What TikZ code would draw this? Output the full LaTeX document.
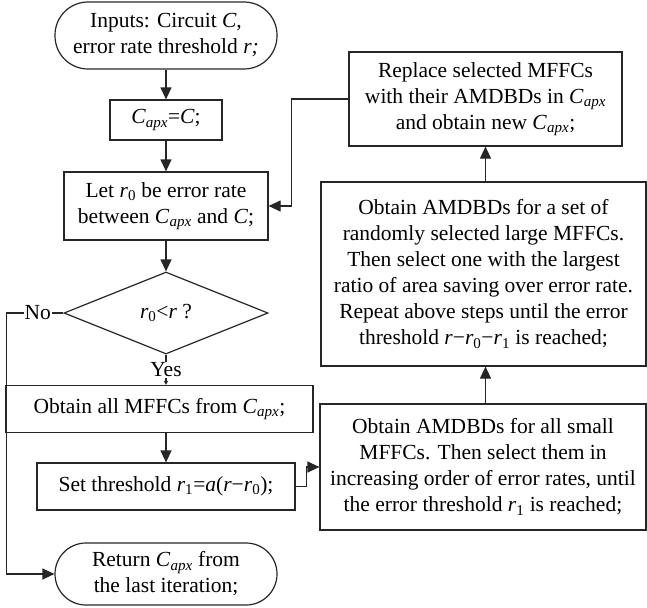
\documentclass[tikz,border=0pt]{standalone}
\usepackage{fontspec}
\setmainfont{Liberation Serif}
\usetikzlibrary{arrows.meta,shapes.geometric}

\newcommand\Capx{\textit{C}\textsubscript{\textit{apx}}}
\newcommand\rsub[1]{\textit{r}\textsubscript{#1}}

\tikzset{
  base/.style={draw=black!85, line width=1.2pt, align=center, inner sep=0pt,
    font=\fontsize{21.5}{26}\selectfont},
  procbox/.style={base, rectangle},
  termbox/.style={base, rectangle},
  decbox/.style={base, diamond},
  flow/.style={draw=black!85, line width=1.2pt, -{Triangle[length=12pt,width=11pt]}},
  plain/.style={draw=black!85, line width=1.2pt},
  lbl/.style={fill=white, inner sep=1pt, font=\fontsize{21.5}{26}\selectfont}
}

\begin{document}
\begin{tikzpicture}[x=1pt,y=-1pt]
\useasboundingbox (0,0) rectangle (647,607);

% left column
\node[termbox, rounded corners=33pt, minimum width=222pt, minimum height=67pt] (start) at (166,35.5)
  {Inputs: Circuit \textit{C},\\error rate threshold \textit{r;}};
\node[procbox, minimum width=112pt, minimum height=40pt] (capx) at (166,120)
  {\Capx=\textit{C};};
\node[procbox, minimum width=204pt, minimum height=68pt] (let) at (166,206)
  {Let \rsub{0} be error rate\\between \Capx{} and \textit{C};};
\node[decbox, minimum width=204pt, minimum height=82pt] (dec) at (166,313)
  {\rsub{0}<\textit{r} ?};
\node[procbox, minimum width=307pt, minimum height=47pt] (obt) at (159.5,409)
  {Obtain all MFFCs from \Capx;};
\node[procbox, minimum width=258pt, minimum height=47pt] (set) at (166,486.5)
  {Set threshold \rsub{1}=\textit{a}(\textit{r}−\rsub{0});};
\node[termbox, rounded corners=31pt, minimum width=222pt, minimum height=62pt] (ret) at (166,574)
  {Return \Capx{} from\\the last iteration;};

% right column
\node[procbox, minimum width=326pt, minimum height=126pt] (small) at (483,467)
  {Obtain AMDBDs for all small\\MFFCs. Then select them in\\increasing order of error rates, until\\the error threshold \rsub{1} is reached;};
\node[procbox, minimum width=325pt, minimum height=184pt] (large) at (483.5,274)
  {Obtain AMDBDs for a set of\\randomly selected large MFFCs.\\Then select one with the largest\\ratio of area saving over error rate.\\Repeat above steps until the error\\threshold \textit{r}−\rsub{0}−\rsub{1} is reached;};
\node[procbox, minimum width=273pt, minimum height=94pt] (repl) at (485.5,99)
  {Replace selected MFFCs\\with their AMDBDs in \Capx\\and obtain new \Capx;};

% connectors
\draw[flow] (start) -- (capx);
\draw[flow] (capx) -- (let);
\draw[flow] (let) -- (dec);
\draw[plain, -{Triangle[length=4pt,width=4pt]}] (dec.south) -- node[lbl]{Yes} (dec.south |- obt.north);
\draw[flow] (set.north |- obt.south) -- (set.north);
\draw[flow] (set.east) -- ++(11,0) |- (small.west);
\draw[flow] (repl.south |- small.north) -- (repl.south |- large.south);
\draw[flow] (repl.south |- large.north) -- (repl.south);
\draw[flow] (repl.west) -- ++(-57,0) |- (let.east);
\draw[flow] (dec.west) -- node[lbl, pos=0.45]{No} ++(-57,0) |- (ret.west);
\end{tikzpicture}
\end{document}
